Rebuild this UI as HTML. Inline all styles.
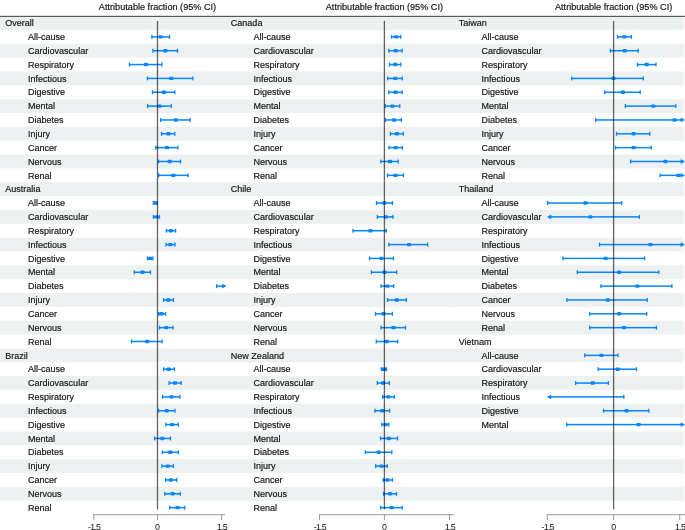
<!DOCTYPE html><html><head><meta charset="utf-8"><style>html,body{margin:0;padding:0;background:#fff;}svg{display:block;}text{font-family:"Liberation Sans",sans-serif;}.t{will-change:transform;}</style></head><body>
<svg class="t" width="685" height="530" viewBox="0 0 685 530">
<rect width="685" height="530" fill="#fff"/>
<rect x="0.00" y="16.10" width="226.10" height="13.85" fill="#eef1f1"/>
<rect x="0.00" y="43.79" width="226.10" height="13.85" fill="#eef1f1"/>
<rect x="0.00" y="71.49" width="226.10" height="13.85" fill="#eef1f1"/>
<rect x="0.00" y="99.18" width="226.10" height="13.85" fill="#eef1f1"/>
<rect x="0.00" y="126.88" width="226.10" height="13.85" fill="#eef1f1"/>
<rect x="0.00" y="154.57" width="226.10" height="13.85" fill="#eef1f1"/>
<rect x="0.00" y="182.26" width="226.10" height="13.85" fill="#eef1f1"/>
<rect x="0.00" y="209.96" width="226.10" height="13.85" fill="#eef1f1"/>
<rect x="0.00" y="237.65" width="226.10" height="13.85" fill="#eef1f1"/>
<rect x="0.00" y="265.35" width="226.10" height="13.85" fill="#eef1f1"/>
<rect x="0.00" y="293.04" width="226.10" height="13.85" fill="#eef1f1"/>
<rect x="0.00" y="320.73" width="226.10" height="13.85" fill="#eef1f1"/>
<rect x="0.00" y="348.43" width="226.10" height="13.85" fill="#eef1f1"/>
<rect x="0.00" y="376.12" width="226.10" height="13.85" fill="#eef1f1"/>
<rect x="0.00" y="403.82" width="226.10" height="13.85" fill="#eef1f1"/>
<rect x="0.00" y="431.51" width="226.10" height="13.85" fill="#eef1f1"/>
<rect x="0.00" y="459.20" width="226.10" height="13.85" fill="#eef1f1"/>
<rect x="0.00" y="486.90" width="226.10" height="13.85" fill="#eef1f1"/>
<rect x="225.50" y="16.10" width="228.50" height="13.85" fill="#eef1f1"/>
<rect x="225.50" y="43.79" width="228.50" height="13.85" fill="#eef1f1"/>
<rect x="225.50" y="71.49" width="228.50" height="13.85" fill="#eef1f1"/>
<rect x="225.50" y="99.18" width="228.50" height="13.85" fill="#eef1f1"/>
<rect x="225.50" y="126.88" width="228.50" height="13.85" fill="#eef1f1"/>
<rect x="225.50" y="154.57" width="228.50" height="13.85" fill="#eef1f1"/>
<rect x="225.50" y="182.26" width="228.50" height="13.85" fill="#eef1f1"/>
<rect x="225.50" y="209.96" width="228.50" height="13.85" fill="#eef1f1"/>
<rect x="225.50" y="237.65" width="228.50" height="13.85" fill="#eef1f1"/>
<rect x="225.50" y="265.35" width="228.50" height="13.85" fill="#eef1f1"/>
<rect x="225.50" y="293.04" width="228.50" height="13.85" fill="#eef1f1"/>
<rect x="225.50" y="320.73" width="228.50" height="13.85" fill="#eef1f1"/>
<rect x="225.50" y="348.43" width="228.50" height="13.85" fill="#eef1f1"/>
<rect x="225.50" y="376.12" width="228.50" height="13.85" fill="#eef1f1"/>
<rect x="225.50" y="403.82" width="228.50" height="13.85" fill="#eef1f1"/>
<rect x="225.50" y="431.51" width="228.50" height="13.85" fill="#eef1f1"/>
<rect x="225.50" y="459.20" width="228.50" height="13.85" fill="#eef1f1"/>
<rect x="225.50" y="486.90" width="228.50" height="13.85" fill="#eef1f1"/>
<rect x="453.40" y="16.10" width="230.60" height="13.85" fill="#eef1f1"/>
<rect x="453.40" y="43.79" width="230.60" height="13.85" fill="#eef1f1"/>
<rect x="453.40" y="71.49" width="230.60" height="13.85" fill="#eef1f1"/>
<rect x="453.40" y="99.18" width="230.60" height="13.85" fill="#eef1f1"/>
<rect x="453.40" y="126.88" width="230.60" height="13.85" fill="#eef1f1"/>
<rect x="453.40" y="154.57" width="230.60" height="13.85" fill="#eef1f1"/>
<rect x="453.40" y="182.26" width="230.60" height="13.85" fill="#eef1f1"/>
<rect x="453.40" y="209.96" width="230.60" height="13.85" fill="#eef1f1"/>
<rect x="453.40" y="237.65" width="230.60" height="13.85" fill="#eef1f1"/>
<rect x="453.40" y="265.35" width="230.60" height="13.85" fill="#eef1f1"/>
<rect x="453.40" y="293.04" width="230.60" height="13.85" fill="#eef1f1"/>
<rect x="453.40" y="320.73" width="230.60" height="13.85" fill="#eef1f1"/>
<rect x="453.40" y="348.43" width="230.60" height="13.85" fill="#eef1f1"/>
<rect x="453.40" y="376.12" width="230.60" height="13.85" fill="#eef1f1"/>
<rect x="453.40" y="403.82" width="230.60" height="13.85" fill="#eef1f1"/>
<rect x="453.40" y="431.51" width="230.60" height="13.85" fill="#eef1f1"/>
<rect x="453.40" y="459.20" width="230.60" height="13.85" fill="#eef1f1"/>
<rect x="453.40" y="486.90" width="230.60" height="13.85" fill="#eef1f1"/>
<rect x="0" y="15.8" width="685" height="1.2" fill="#5a5a5a"/>
<text transform="translate(157.50 9.70) scale(1.027 1)" font-size="8.9" fill="#141414" stroke="#141414" stroke-width="0.18" text-anchor="middle">Attributable fraction (95% CI)</text>
<text transform="translate(384.40 9.70) scale(1.027 1)" font-size="8.9" fill="#141414" stroke="#141414" stroke-width="0.18" text-anchor="middle">Attributable fraction (95% CI)</text>
<text transform="translate(613.60 9.70) scale(1.027 1)" font-size="8.9" fill="#141414" stroke="#141414" stroke-width="0.18" text-anchor="middle">Attributable fraction (95% CI)</text>
<rect x="93.30" y="514.2" width="131.70" height="1.0" fill="#9a9a9a"/>
<rect x="93.30" y="514.2" width="1.0" height="5.8" fill="#9a9a9a"/>
<rect x="157.00" y="514.2" width="1.0" height="5.8" fill="#9a9a9a"/>
<rect x="221.10" y="514.2" width="1.0" height="5.8" fill="#9a9a9a"/>
<text x="94.17" y="530.1" font-size="8.9" fill="#141414" text-anchor="middle" letter-spacing="-0.75">-1.5</text>
<text x="157.50" y="530.1" font-size="8.9" fill="#141414" text-anchor="middle" letter-spacing="0">0</text>
<text x="221.97" y="530.1" font-size="8.9" fill="#141414" text-anchor="middle" letter-spacing="-0.75">1.5</text>
<rect x="319.00" y="514.2" width="134.90" height="1.0" fill="#9a9a9a"/>
<rect x="319.00" y="514.2" width="1.0" height="5.8" fill="#9a9a9a"/>
<rect x="383.90" y="514.2" width="1.0" height="5.8" fill="#9a9a9a"/>
<rect x="449.00" y="514.2" width="1.0" height="5.8" fill="#9a9a9a"/>
<text x="319.88" y="530.1" font-size="8.9" fill="#141414" text-anchor="middle" letter-spacing="-0.75">-1.5</text>
<text x="384.40" y="530.1" font-size="8.9" fill="#141414" text-anchor="middle" letter-spacing="0">0</text>
<text x="449.88" y="530.1" font-size="8.9" fill="#141414" text-anchor="middle" letter-spacing="-0.75">1.5</text>
<rect x="546.80" y="514.2" width="138.20" height="1.0" fill="#9a9a9a"/>
<rect x="546.80" y="514.2" width="1.0" height="5.8" fill="#9a9a9a"/>
<rect x="613.10" y="514.2" width="1.0" height="5.8" fill="#9a9a9a"/>
<rect x="679.20" y="514.2" width="1.0" height="5.8" fill="#9a9a9a"/>
<text x="547.67" y="530.1" font-size="8.9" fill="#141414" text-anchor="middle" letter-spacing="-0.75">-1.5</text>
<text x="613.60" y="530.1" font-size="8.9" fill="#141414" text-anchor="middle" letter-spacing="0">0</text>
<text x="680.08" y="530.1" font-size="8.9" fill="#141414" text-anchor="middle" letter-spacing="-0.75">1.5</text>
<text transform="translate(5.30 26.20) scale(1.015 1)" font-size="8.9" fill="#141414" stroke="#141414" stroke-width="0.18">Overall</text>
<text transform="translate(28.00 40.05) scale(1.015 1)" font-size="8.9" fill="#141414" stroke="#141414" stroke-width="0.18">All-cause</text>
<rect x="151.90" y="36.12" width="17.60" height="1.5" fill="#0386ff"/>
<rect x="151.25" y="34.87" width="1.3" height="4" fill="#0386ff"/>
<rect x="168.85" y="34.87" width="1.3" height="4" fill="#0386ff"/>
<rect x="158.70" y="35.17" width="4.0" height="3.4" rx="0.7" fill="#0386ff"/>
<text transform="translate(28.00 53.89) scale(1.015 1)" font-size="8.9" fill="#141414" stroke="#141414" stroke-width="0.18">Cardiovascular</text>
<rect x="152.90" y="49.97" width="24.60" height="1.5" fill="#0386ff"/>
<rect x="152.25" y="48.72" width="1.3" height="4" fill="#0386ff"/>
<rect x="176.85" y="48.72" width="1.3" height="4" fill="#0386ff"/>
<rect x="163.40" y="49.02" width="4.0" height="3.4" rx="0.7" fill="#0386ff"/>
<text transform="translate(28.00 67.74) scale(1.015 1)" font-size="8.9" fill="#141414" stroke="#141414" stroke-width="0.18">Respiratory</text>
<rect x="129.40" y="63.81" width="32.50" height="1.5" fill="#0386ff"/>
<rect x="128.75" y="62.56" width="1.3" height="4" fill="#0386ff"/>
<rect x="161.25" y="62.56" width="1.3" height="4" fill="#0386ff"/>
<rect x="144.00" y="62.86" width="4.0" height="3.4" rx="0.7" fill="#0386ff"/>
<text transform="translate(28.00 81.59) scale(1.015 1)" font-size="8.9" fill="#141414" stroke="#141414" stroke-width="0.18">Infectious</text>
<rect x="147.40" y="77.66" width="45.40" height="1.5" fill="#0386ff"/>
<rect x="146.75" y="76.41" width="1.3" height="4" fill="#0386ff"/>
<rect x="192.15" y="76.41" width="1.3" height="4" fill="#0386ff"/>
<rect x="169.30" y="76.71" width="4.0" height="3.4" rx="0.7" fill="#0386ff"/>
<text transform="translate(28.00 95.44) scale(1.015 1)" font-size="8.9" fill="#141414" stroke="#141414" stroke-width="0.18">Digestive</text>
<rect x="152.50" y="91.51" width="22.30" height="1.5" fill="#0386ff"/>
<rect x="151.85" y="90.26" width="1.3" height="4" fill="#0386ff"/>
<rect x="174.15" y="90.26" width="1.3" height="4" fill="#0386ff"/>
<rect x="161.80" y="90.56" width="4.0" height="3.4" rx="0.7" fill="#0386ff"/>
<text transform="translate(28.00 109.28) scale(1.015 1)" font-size="8.9" fill="#141414" stroke="#141414" stroke-width="0.18">Mental</text>
<rect x="147.60" y="105.36" width="23.70" height="1.5" fill="#0386ff"/>
<rect x="146.95" y="104.11" width="1.3" height="4" fill="#0386ff"/>
<rect x="170.65" y="104.11" width="1.3" height="4" fill="#0386ff"/>
<rect x="157.50" y="104.41" width="4.0" height="3.4" rx="0.7" fill="#0386ff"/>
<text transform="translate(28.00 123.13) scale(1.015 1)" font-size="8.9" fill="#141414" stroke="#141414" stroke-width="0.18">Diabetes</text>
<rect x="160.70" y="119.20" width="29.40" height="1.5" fill="#0386ff"/>
<rect x="160.05" y="117.95" width="1.3" height="4" fill="#0386ff"/>
<rect x="189.45" y="117.95" width="1.3" height="4" fill="#0386ff"/>
<rect x="173.80" y="118.25" width="4.0" height="3.4" rx="0.7" fill="#0386ff"/>
<text transform="translate(28.00 136.98) scale(1.015 1)" font-size="8.9" fill="#141414" stroke="#141414" stroke-width="0.18">Injury</text>
<rect x="161.50" y="133.05" width="13.30" height="1.5" fill="#0386ff"/>
<rect x="160.85" y="131.80" width="1.3" height="4" fill="#0386ff"/>
<rect x="174.15" y="131.80" width="1.3" height="4" fill="#0386ff"/>
<rect x="166.50" y="132.10" width="4.0" height="3.4" rx="0.7" fill="#0386ff"/>
<text transform="translate(28.00 150.82) scale(1.015 1)" font-size="8.9" fill="#141414" stroke="#141414" stroke-width="0.18">Cancer</text>
<rect x="155.80" y="146.90" width="22.10" height="1.5" fill="#0386ff"/>
<rect x="155.15" y="145.65" width="1.3" height="4" fill="#0386ff"/>
<rect x="177.25" y="145.65" width="1.3" height="4" fill="#0386ff"/>
<rect x="165.00" y="145.95" width="4.0" height="3.4" rx="0.7" fill="#0386ff"/>
<text transform="translate(28.00 164.67) scale(1.015 1)" font-size="8.9" fill="#141414" stroke="#141414" stroke-width="0.18">Nervous</text>
<rect x="158.50" y="160.74" width="22.00" height="1.5" fill="#0386ff"/>
<rect x="157.85" y="159.49" width="1.3" height="4" fill="#0386ff"/>
<rect x="179.85" y="159.49" width="1.3" height="4" fill="#0386ff"/>
<rect x="167.70" y="159.79" width="4.0" height="3.4" rx="0.7" fill="#0386ff"/>
<text transform="translate(28.00 178.52) scale(1.015 1)" font-size="8.9" fill="#141414" stroke="#141414" stroke-width="0.18">Renal</text>
<rect x="158.70" y="174.59" width="29.40" height="1.5" fill="#0386ff"/>
<rect x="158.05" y="173.34" width="1.3" height="4" fill="#0386ff"/>
<rect x="187.45" y="173.34" width="1.3" height="4" fill="#0386ff"/>
<rect x="171.40" y="173.64" width="4.0" height="3.4" rx="0.7" fill="#0386ff"/>
<text transform="translate(5.30 192.36) scale(1.015 1)" font-size="8.9" fill="#141414" stroke="#141414" stroke-width="0.18">Australia</text>
<text transform="translate(28.00 206.21) scale(1.015 1)" font-size="8.9" fill="#141414" stroke="#141414" stroke-width="0.18">All-cause</text>
<rect x="153.40" y="202.28" width="3.60" height="1.5" fill="#0386ff"/>
<rect x="152.75" y="201.03" width="1.3" height="4" fill="#0386ff"/>
<rect x="156.35" y="201.03" width="1.3" height="4" fill="#0386ff"/>
<rect x="153.20" y="201.33" width="4.0" height="3.4" rx="0.7" fill="#0386ff"/>
<text transform="translate(28.00 220.06) scale(1.015 1)" font-size="8.9" fill="#141414" stroke="#141414" stroke-width="0.18">Cardiovascular</text>
<rect x="153.40" y="216.13" width="6.10" height="1.5" fill="#0386ff"/>
<rect x="152.75" y="214.88" width="1.3" height="4" fill="#0386ff"/>
<rect x="158.85" y="214.88" width="1.3" height="4" fill="#0386ff"/>
<rect x="154.40" y="215.18" width="4.0" height="3.4" rx="0.7" fill="#0386ff"/>
<text transform="translate(28.00 233.90) scale(1.015 1)" font-size="8.9" fill="#141414" stroke="#141414" stroke-width="0.18">Respiratory</text>
<rect x="166.40" y="229.98" width="9.20" height="1.5" fill="#0386ff"/>
<rect x="165.75" y="228.73" width="1.3" height="4" fill="#0386ff"/>
<rect x="174.95" y="228.73" width="1.3" height="4" fill="#0386ff"/>
<rect x="168.90" y="229.03" width="4.0" height="3.4" rx="0.7" fill="#0386ff"/>
<text transform="translate(28.00 247.75) scale(1.015 1)" font-size="8.9" fill="#141414" stroke="#141414" stroke-width="0.18">Infectious</text>
<rect x="166.00" y="243.83" width="9.00" height="1.5" fill="#0386ff"/>
<rect x="165.35" y="242.58" width="1.3" height="4" fill="#0386ff"/>
<rect x="174.35" y="242.58" width="1.3" height="4" fill="#0386ff"/>
<rect x="168.30" y="242.88" width="4.0" height="3.4" rx="0.7" fill="#0386ff"/>
<text transform="translate(28.00 261.60) scale(1.015 1)" font-size="8.9" fill="#141414" stroke="#141414" stroke-width="0.18">Digestive</text>
<rect x="147.40" y="257.67" width="5.50" height="1.5" fill="#0386ff"/>
<rect x="146.75" y="256.42" width="1.3" height="4" fill="#0386ff"/>
<rect x="152.25" y="256.42" width="1.3" height="4" fill="#0386ff"/>
<rect x="148.10" y="256.72" width="4.0" height="3.4" rx="0.7" fill="#0386ff"/>
<text transform="translate(28.00 275.45) scale(1.015 1)" font-size="8.9" fill="#141414" stroke="#141414" stroke-width="0.18">Mental</text>
<rect x="134.30" y="271.52" width="16.20" height="1.5" fill="#0386ff"/>
<rect x="133.65" y="270.27" width="1.3" height="4" fill="#0386ff"/>
<rect x="149.85" y="270.27" width="1.3" height="4" fill="#0386ff"/>
<rect x="140.50" y="270.57" width="4.0" height="3.4" rx="0.7" fill="#0386ff"/>
<text transform="translate(28.00 289.29) scale(1.015 1)" font-size="8.9" fill="#141414" stroke="#141414" stroke-width="0.18">Diabetes</text>
<rect x="216.70" y="285.37" width="6.30" height="1.5" fill="#0386ff"/>
<rect x="216.05" y="284.12" width="1.3" height="4" fill="#0386ff"/>
<path d="M226.60 286.12 L222.20 283.72 L222.20 288.52 Z" fill="#0386ff"/>
<text transform="translate(28.00 303.14) scale(1.015 1)" font-size="8.9" fill="#141414" stroke="#141414" stroke-width="0.18">Injury</text>
<rect x="163.60" y="299.21" width="9.80" height="1.5" fill="#0386ff"/>
<rect x="162.95" y="297.96" width="1.3" height="4" fill="#0386ff"/>
<rect x="172.75" y="297.96" width="1.3" height="4" fill="#0386ff"/>
<rect x="166.30" y="298.26" width="4.0" height="3.4" rx="0.7" fill="#0386ff"/>
<text transform="translate(28.00 316.99) scale(1.015 1)" font-size="8.9" fill="#141414" stroke="#141414" stroke-width="0.18">Cancer</text>
<rect x="158.70" y="313.06" width="6.90" height="1.5" fill="#0386ff"/>
<rect x="158.05" y="311.81" width="1.3" height="4" fill="#0386ff"/>
<rect x="164.95" y="311.81" width="1.3" height="4" fill="#0386ff"/>
<rect x="159.50" y="312.11" width="4.0" height="3.4" rx="0.7" fill="#0386ff"/>
<text transform="translate(28.00 330.83) scale(1.015 1)" font-size="8.9" fill="#141414" stroke="#141414" stroke-width="0.18">Nervous</text>
<rect x="159.50" y="326.91" width="13.50" height="1.5" fill="#0386ff"/>
<rect x="158.85" y="325.66" width="1.3" height="4" fill="#0386ff"/>
<rect x="172.35" y="325.66" width="1.3" height="4" fill="#0386ff"/>
<rect x="164.20" y="325.96" width="4.0" height="3.4" rx="0.7" fill="#0386ff"/>
<text transform="translate(28.00 344.68) scale(1.015 1)" font-size="8.9" fill="#141414" stroke="#141414" stroke-width="0.18">Renal</text>
<rect x="131.50" y="340.75" width="30.60" height="1.5" fill="#0386ff"/>
<rect x="130.85" y="339.50" width="1.3" height="4" fill="#0386ff"/>
<rect x="161.45" y="339.50" width="1.3" height="4" fill="#0386ff"/>
<rect x="145.20" y="339.80" width="4.0" height="3.4" rx="0.7" fill="#0386ff"/>
<text transform="translate(5.30 358.53) scale(1.015 1)" font-size="8.9" fill="#141414" stroke="#141414" stroke-width="0.18">Brazil</text>
<text transform="translate(28.00 372.38) scale(1.015 1)" font-size="8.9" fill="#141414" stroke="#141414" stroke-width="0.18">All-cause</text>
<rect x="163.60" y="368.45" width="10.80" height="1.5" fill="#0386ff"/>
<rect x="162.95" y="367.20" width="1.3" height="4" fill="#0386ff"/>
<rect x="173.75" y="367.20" width="1.3" height="4" fill="#0386ff"/>
<rect x="166.70" y="367.50" width="4.0" height="3.4" rx="0.7" fill="#0386ff"/>
<text transform="translate(28.00 386.22) scale(1.015 1)" font-size="8.9" fill="#141414" stroke="#141414" stroke-width="0.18">Cardiovascular</text>
<rect x="169.10" y="382.30" width="12.10" height="1.5" fill="#0386ff"/>
<rect x="168.45" y="381.05" width="1.3" height="4" fill="#0386ff"/>
<rect x="180.55" y="381.05" width="1.3" height="4" fill="#0386ff"/>
<rect x="173.00" y="381.35" width="4.0" height="3.4" rx="0.7" fill="#0386ff"/>
<text transform="translate(28.00 400.07) scale(1.015 1)" font-size="8.9" fill="#141414" stroke="#141414" stroke-width="0.18">Respiratory</text>
<rect x="162.60" y="396.14" width="17.30" height="1.5" fill="#0386ff"/>
<rect x="161.95" y="394.89" width="1.3" height="4" fill="#0386ff"/>
<rect x="179.25" y="394.89" width="1.3" height="4" fill="#0386ff"/>
<rect x="169.50" y="395.19" width="4.0" height="3.4" rx="0.7" fill="#0386ff"/>
<text transform="translate(28.00 413.92) scale(1.015 1)" font-size="8.9" fill="#141414" stroke="#141414" stroke-width="0.18">Infectious</text>
<rect x="158.50" y="409.99" width="16.50" height="1.5" fill="#0386ff"/>
<rect x="157.85" y="408.74" width="1.3" height="4" fill="#0386ff"/>
<rect x="174.35" y="408.74" width="1.3" height="4" fill="#0386ff"/>
<rect x="164.80" y="409.04" width="4.0" height="3.4" rx="0.7" fill="#0386ff"/>
<text transform="translate(28.00 427.76) scale(1.015 1)" font-size="8.9" fill="#141414" stroke="#141414" stroke-width="0.18">Digestive</text>
<rect x="165.80" y="423.84" width="12.50" height="1.5" fill="#0386ff"/>
<rect x="165.15" y="422.59" width="1.3" height="4" fill="#0386ff"/>
<rect x="177.65" y="422.59" width="1.3" height="4" fill="#0386ff"/>
<rect x="170.20" y="422.89" width="4.0" height="3.4" rx="0.7" fill="#0386ff"/>
<text transform="translate(28.00 441.61) scale(1.015 1)" font-size="8.9" fill="#141414" stroke="#141414" stroke-width="0.18">Mental</text>
<rect x="154.60" y="437.68" width="15.90" height="1.5" fill="#0386ff"/>
<rect x="153.95" y="436.43" width="1.3" height="4" fill="#0386ff"/>
<rect x="169.85" y="436.43" width="1.3" height="4" fill="#0386ff"/>
<rect x="160.30" y="436.73" width="4.0" height="3.4" rx="0.7" fill="#0386ff"/>
<text transform="translate(28.00 455.46) scale(1.015 1)" font-size="8.9" fill="#141414" stroke="#141414" stroke-width="0.18">Diabetes</text>
<rect x="162.30" y="451.53" width="16.00" height="1.5" fill="#0386ff"/>
<rect x="161.65" y="450.28" width="1.3" height="4" fill="#0386ff"/>
<rect x="177.65" y="450.28" width="1.3" height="4" fill="#0386ff"/>
<rect x="168.30" y="450.58" width="4.0" height="3.4" rx="0.7" fill="#0386ff"/>
<text transform="translate(28.00 469.30) scale(1.015 1)" font-size="8.9" fill="#141414" stroke="#141414" stroke-width="0.18">Injury</text>
<rect x="161.90" y="465.38" width="11.50" height="1.5" fill="#0386ff"/>
<rect x="161.25" y="464.13" width="1.3" height="4" fill="#0386ff"/>
<rect x="172.75" y="464.13" width="1.3" height="4" fill="#0386ff"/>
<rect x="165.70" y="464.43" width="4.0" height="3.4" rx="0.7" fill="#0386ff"/>
<text transform="translate(28.00 483.15) scale(1.015 1)" font-size="8.9" fill="#141414" stroke="#141414" stroke-width="0.18">Cancer</text>
<rect x="165.60" y="479.22" width="11.10" height="1.5" fill="#0386ff"/>
<rect x="164.95" y="477.97" width="1.3" height="4" fill="#0386ff"/>
<rect x="176.05" y="477.97" width="1.3" height="4" fill="#0386ff"/>
<rect x="168.90" y="478.27" width="4.0" height="3.4" rx="0.7" fill="#0386ff"/>
<text transform="translate(28.00 497.00) scale(1.015 1)" font-size="8.9" fill="#141414" stroke="#141414" stroke-width="0.18">Nervous</text>
<rect x="164.80" y="493.07" width="15.50" height="1.5" fill="#0386ff"/>
<rect x="164.15" y="491.82" width="1.3" height="4" fill="#0386ff"/>
<rect x="179.65" y="491.82" width="1.3" height="4" fill="#0386ff"/>
<rect x="170.60" y="492.12" width="4.0" height="3.4" rx="0.7" fill="#0386ff"/>
<text transform="translate(28.00 510.85) scale(1.015 1)" font-size="8.9" fill="#141414" stroke="#141414" stroke-width="0.18">Renal</text>
<rect x="169.70" y="506.92" width="15.10" height="1.5" fill="#0386ff"/>
<rect x="169.05" y="505.67" width="1.3" height="4" fill="#0386ff"/>
<rect x="184.15" y="505.67" width="1.3" height="4" fill="#0386ff"/>
<rect x="175.50" y="505.97" width="4.0" height="3.4" rx="0.7" fill="#0386ff"/>
<text transform="translate(230.80 26.20) scale(1.015 1)" font-size="8.9" fill="#141414" stroke="#141414" stroke-width="0.18">Canada</text>
<text transform="translate(253.50 40.05) scale(1.015 1)" font-size="8.9" fill="#141414" stroke="#141414" stroke-width="0.18">All-cause</text>
<rect x="391.60" y="36.12" width="9.20" height="1.5" fill="#0386ff"/>
<rect x="390.95" y="34.87" width="1.3" height="4" fill="#0386ff"/>
<rect x="400.15" y="34.87" width="1.3" height="4" fill="#0386ff"/>
<rect x="394.30" y="35.17" width="4.0" height="3.4" rx="0.7" fill="#0386ff"/>
<text transform="translate(253.50 53.89) scale(1.015 1)" font-size="8.9" fill="#141414" stroke="#141414" stroke-width="0.18">Cardiovascular</text>
<rect x="388.80" y="49.97" width="13.40" height="1.5" fill="#0386ff"/>
<rect x="388.15" y="48.72" width="1.3" height="4" fill="#0386ff"/>
<rect x="401.55" y="48.72" width="1.3" height="4" fill="#0386ff"/>
<rect x="393.70" y="49.02" width="4.0" height="3.4" rx="0.7" fill="#0386ff"/>
<text transform="translate(253.50 67.74) scale(1.015 1)" font-size="8.9" fill="#141414" stroke="#141414" stroke-width="0.18">Respiratory</text>
<rect x="389.40" y="63.81" width="11.40" height="1.5" fill="#0386ff"/>
<rect x="388.75" y="62.56" width="1.3" height="4" fill="#0386ff"/>
<rect x="400.15" y="62.56" width="1.3" height="4" fill="#0386ff"/>
<rect x="393.30" y="62.86" width="4.0" height="3.4" rx="0.7" fill="#0386ff"/>
<text transform="translate(253.50 81.59) scale(1.015 1)" font-size="8.9" fill="#141414" stroke="#141414" stroke-width="0.18">Infectious</text>
<rect x="387.70" y="77.66" width="14.50" height="1.5" fill="#0386ff"/>
<rect x="387.05" y="76.41" width="1.3" height="4" fill="#0386ff"/>
<rect x="401.55" y="76.41" width="1.3" height="4" fill="#0386ff"/>
<rect x="393.30" y="76.71" width="4.0" height="3.4" rx="0.7" fill="#0386ff"/>
<text transform="translate(253.50 95.44) scale(1.015 1)" font-size="8.9" fill="#141414" stroke="#141414" stroke-width="0.18">Digestive</text>
<rect x="388.80" y="91.51" width="13.40" height="1.5" fill="#0386ff"/>
<rect x="388.15" y="90.26" width="1.3" height="4" fill="#0386ff"/>
<rect x="401.55" y="90.26" width="1.3" height="4" fill="#0386ff"/>
<rect x="393.70" y="90.56" width="4.0" height="3.4" rx="0.7" fill="#0386ff"/>
<text transform="translate(253.50 109.28) scale(1.015 1)" font-size="8.9" fill="#141414" stroke="#141414" stroke-width="0.18">Mental</text>
<rect x="385.30" y="105.36" width="14.50" height="1.5" fill="#0386ff"/>
<rect x="384.65" y="104.11" width="1.3" height="4" fill="#0386ff"/>
<rect x="399.15" y="104.11" width="1.3" height="4" fill="#0386ff"/>
<rect x="390.40" y="104.41" width="4.0" height="3.4" rx="0.7" fill="#0386ff"/>
<text transform="translate(253.50 123.13) scale(1.015 1)" font-size="8.9" fill="#141414" stroke="#141414" stroke-width="0.18">Diabetes</text>
<rect x="385.50" y="119.20" width="15.90" height="1.5" fill="#0386ff"/>
<rect x="384.85" y="117.95" width="1.3" height="4" fill="#0386ff"/>
<rect x="400.75" y="117.95" width="1.3" height="4" fill="#0386ff"/>
<rect x="392.10" y="118.25" width="4.0" height="3.4" rx="0.7" fill="#0386ff"/>
<text transform="translate(253.50 136.98) scale(1.015 1)" font-size="8.9" fill="#141414" stroke="#141414" stroke-width="0.18">Injury</text>
<rect x="390.40" y="133.05" width="12.90" height="1.5" fill="#0386ff"/>
<rect x="389.75" y="131.80" width="1.3" height="4" fill="#0386ff"/>
<rect x="402.65" y="131.80" width="1.3" height="4" fill="#0386ff"/>
<rect x="394.90" y="132.10" width="4.0" height="3.4" rx="0.7" fill="#0386ff"/>
<text transform="translate(253.50 150.82) scale(1.015 1)" font-size="8.9" fill="#141414" stroke="#141414" stroke-width="0.18">Cancer</text>
<rect x="389.00" y="146.90" width="13.40" height="1.5" fill="#0386ff"/>
<rect x="388.35" y="145.65" width="1.3" height="4" fill="#0386ff"/>
<rect x="401.75" y="145.65" width="1.3" height="4" fill="#0386ff"/>
<rect x="393.70" y="145.95" width="4.0" height="3.4" rx="0.7" fill="#0386ff"/>
<text transform="translate(253.50 164.67) scale(1.015 1)" font-size="8.9" fill="#141414" stroke="#141414" stroke-width="0.18">Nervous</text>
<rect x="380.80" y="160.74" width="17.40" height="1.5" fill="#0386ff"/>
<rect x="380.15" y="159.49" width="1.3" height="4" fill="#0386ff"/>
<rect x="397.55" y="159.49" width="1.3" height="4" fill="#0386ff"/>
<rect x="388.00" y="159.79" width="4.0" height="3.4" rx="0.7" fill="#0386ff"/>
<text transform="translate(253.50 178.52) scale(1.015 1)" font-size="8.9" fill="#141414" stroke="#141414" stroke-width="0.18">Renal</text>
<rect x="387.50" y="174.59" width="16.00" height="1.5" fill="#0386ff"/>
<rect x="386.85" y="173.34" width="1.3" height="4" fill="#0386ff"/>
<rect x="402.85" y="173.34" width="1.3" height="4" fill="#0386ff"/>
<rect x="393.50" y="173.64" width="4.0" height="3.4" rx="0.7" fill="#0386ff"/>
<text transform="translate(230.80 192.36) scale(1.015 1)" font-size="8.9" fill="#141414" stroke="#141414" stroke-width="0.18">Chile</text>
<text transform="translate(253.50 206.21) scale(1.015 1)" font-size="8.9" fill="#141414" stroke="#141414" stroke-width="0.18">All-cause</text>
<rect x="376.50" y="202.28" width="15.90" height="1.5" fill="#0386ff"/>
<rect x="375.85" y="201.03" width="1.3" height="4" fill="#0386ff"/>
<rect x="391.75" y="201.03" width="1.3" height="4" fill="#0386ff"/>
<rect x="382.30" y="201.33" width="4.0" height="3.4" rx="0.7" fill="#0386ff"/>
<text transform="translate(253.50 220.06) scale(1.015 1)" font-size="8.9" fill="#141414" stroke="#141414" stroke-width="0.18">Cardiovascular</text>
<rect x="377.30" y="216.13" width="15.70" height="1.5" fill="#0386ff"/>
<rect x="376.65" y="214.88" width="1.3" height="4" fill="#0386ff"/>
<rect x="392.35" y="214.88" width="1.3" height="4" fill="#0386ff"/>
<rect x="383.90" y="215.18" width="4.0" height="3.4" rx="0.7" fill="#0386ff"/>
<text transform="translate(253.50 233.90) scale(1.015 1)" font-size="8.9" fill="#141414" stroke="#141414" stroke-width="0.18">Respiratory</text>
<rect x="353.00" y="229.98" width="33.30" height="1.5" fill="#0386ff"/>
<rect x="352.35" y="228.73" width="1.3" height="4" fill="#0386ff"/>
<rect x="385.65" y="228.73" width="1.3" height="4" fill="#0386ff"/>
<rect x="368.40" y="229.03" width="4.0" height="3.4" rx="0.7" fill="#0386ff"/>
<text transform="translate(253.50 247.75) scale(1.015 1)" font-size="8.9" fill="#141414" stroke="#141414" stroke-width="0.18">Infectious</text>
<rect x="388.80" y="243.83" width="38.80" height="1.5" fill="#0386ff"/>
<rect x="388.15" y="242.58" width="1.3" height="4" fill="#0386ff"/>
<rect x="426.95" y="242.58" width="1.3" height="4" fill="#0386ff"/>
<rect x="407.00" y="242.88" width="4.0" height="3.4" rx="0.7" fill="#0386ff"/>
<text transform="translate(253.50 261.60) scale(1.015 1)" font-size="8.9" fill="#141414" stroke="#141414" stroke-width="0.18">Digestive</text>
<rect x="369.50" y="257.67" width="24.00" height="1.5" fill="#0386ff"/>
<rect x="368.85" y="256.42" width="1.3" height="4" fill="#0386ff"/>
<rect x="392.85" y="256.42" width="1.3" height="4" fill="#0386ff"/>
<rect x="379.40" y="256.72" width="4.0" height="3.4" rx="0.7" fill="#0386ff"/>
<text transform="translate(253.50 275.45) scale(1.015 1)" font-size="8.9" fill="#141414" stroke="#141414" stroke-width="0.18">Mental</text>
<rect x="371.40" y="271.52" width="25.30" height="1.5" fill="#0386ff"/>
<rect x="370.75" y="270.27" width="1.3" height="4" fill="#0386ff"/>
<rect x="396.05" y="270.27" width="1.3" height="4" fill="#0386ff"/>
<rect x="382.50" y="270.57" width="4.0" height="3.4" rx="0.7" fill="#0386ff"/>
<text transform="translate(253.50 289.29) scale(1.015 1)" font-size="8.9" fill="#141414" stroke="#141414" stroke-width="0.18">Diabetes</text>
<rect x="381.00" y="285.37" width="12.70" height="1.5" fill="#0386ff"/>
<rect x="380.35" y="284.12" width="1.3" height="4" fill="#0386ff"/>
<rect x="393.05" y="284.12" width="1.3" height="4" fill="#0386ff"/>
<rect x="385.30" y="284.42" width="4.0" height="3.4" rx="0.7" fill="#0386ff"/>
<text transform="translate(253.50 303.14) scale(1.015 1)" font-size="8.9" fill="#141414" stroke="#141414" stroke-width="0.18">Injury</text>
<rect x="387.50" y="299.21" width="18.80" height="1.5" fill="#0386ff"/>
<rect x="386.85" y="297.96" width="1.3" height="4" fill="#0386ff"/>
<rect x="405.65" y="297.96" width="1.3" height="4" fill="#0386ff"/>
<rect x="394.90" y="298.26" width="4.0" height="3.4" rx="0.7" fill="#0386ff"/>
<text transform="translate(253.50 316.99) scale(1.015 1)" font-size="8.9" fill="#141414" stroke="#141414" stroke-width="0.18">Cancer</text>
<rect x="375.50" y="313.06" width="16.90" height="1.5" fill="#0386ff"/>
<rect x="374.85" y="311.81" width="1.3" height="4" fill="#0386ff"/>
<rect x="391.75" y="311.81" width="1.3" height="4" fill="#0386ff"/>
<rect x="381.60" y="312.11" width="4.0" height="3.4" rx="0.7" fill="#0386ff"/>
<text transform="translate(253.50 330.83) scale(1.015 1)" font-size="8.9" fill="#141414" stroke="#141414" stroke-width="0.18">Nervous</text>
<rect x="381.00" y="326.91" width="24.50" height="1.5" fill="#0386ff"/>
<rect x="380.35" y="325.66" width="1.3" height="4" fill="#0386ff"/>
<rect x="404.85" y="325.66" width="1.3" height="4" fill="#0386ff"/>
<rect x="391.50" y="325.96" width="4.0" height="3.4" rx="0.7" fill="#0386ff"/>
<text transform="translate(253.50 344.68) scale(1.015 1)" font-size="8.9" fill="#141414" stroke="#141414" stroke-width="0.18">Renal</text>
<rect x="376.30" y="340.75" width="21.40" height="1.5" fill="#0386ff"/>
<rect x="375.65" y="339.50" width="1.3" height="4" fill="#0386ff"/>
<rect x="397.05" y="339.50" width="1.3" height="4" fill="#0386ff"/>
<rect x="384.70" y="339.80" width="4.0" height="3.4" rx="0.7" fill="#0386ff"/>
<text transform="translate(230.80 358.53) scale(1.015 1)" font-size="8.9" fill="#141414" stroke="#141414" stroke-width="0.18">New Zealand</text>
<text transform="translate(253.50 372.38) scale(1.015 1)" font-size="8.9" fill="#141414" stroke="#141414" stroke-width="0.18">All-cause</text>
<rect x="381.40" y="368.45" width="5.10" height="1.5" fill="#0386ff"/>
<rect x="380.75" y="367.20" width="1.3" height="4" fill="#0386ff"/>
<rect x="385.85" y="367.20" width="1.3" height="4" fill="#0386ff"/>
<rect x="381.90" y="367.50" width="4.0" height="3.4" rx="0.7" fill="#0386ff"/>
<text transform="translate(253.50 386.22) scale(1.015 1)" font-size="8.9" fill="#141414" stroke="#141414" stroke-width="0.18">Cardiovascular</text>
<rect x="377.30" y="382.30" width="12.10" height="1.5" fill="#0386ff"/>
<rect x="376.65" y="381.05" width="1.3" height="4" fill="#0386ff"/>
<rect x="388.75" y="381.05" width="1.3" height="4" fill="#0386ff"/>
<rect x="381.00" y="381.35" width="4.0" height="3.4" rx="0.7" fill="#0386ff"/>
<text transform="translate(253.50 400.07) scale(1.015 1)" font-size="8.9" fill="#141414" stroke="#141414" stroke-width="0.18">Respiratory</text>
<rect x="382.60" y="396.14" width="11.70" height="1.5" fill="#0386ff"/>
<rect x="381.95" y="394.89" width="1.3" height="4" fill="#0386ff"/>
<rect x="393.65" y="394.89" width="1.3" height="4" fill="#0386ff"/>
<rect x="386.30" y="395.19" width="4.0" height="3.4" rx="0.7" fill="#0386ff"/>
<text transform="translate(253.50 413.92) scale(1.015 1)" font-size="8.9" fill="#141414" stroke="#141414" stroke-width="0.18">Infectious</text>
<rect x="374.90" y="409.99" width="14.70" height="1.5" fill="#0386ff"/>
<rect x="374.25" y="408.74" width="1.3" height="4" fill="#0386ff"/>
<rect x="388.95" y="408.74" width="1.3" height="4" fill="#0386ff"/>
<rect x="380.20" y="409.04" width="4.0" height="3.4" rx="0.7" fill="#0386ff"/>
<text transform="translate(253.50 427.76) scale(1.015 1)" font-size="8.9" fill="#141414" stroke="#141414" stroke-width="0.18">Digestive</text>
<rect x="381.80" y="423.84" width="7.00" height="1.5" fill="#0386ff"/>
<rect x="381.15" y="422.59" width="1.3" height="4" fill="#0386ff"/>
<rect x="388.15" y="422.59" width="1.3" height="4" fill="#0386ff"/>
<rect x="383.50" y="422.89" width="4.0" height="3.4" rx="0.7" fill="#0386ff"/>
<text transform="translate(253.50 441.61) scale(1.015 1)" font-size="8.9" fill="#141414" stroke="#141414" stroke-width="0.18">Mental</text>
<rect x="380.60" y="437.68" width="16.90" height="1.5" fill="#0386ff"/>
<rect x="379.95" y="436.43" width="1.3" height="4" fill="#0386ff"/>
<rect x="396.85" y="436.43" width="1.3" height="4" fill="#0386ff"/>
<rect x="386.80" y="436.73" width="4.0" height="3.4" rx="0.7" fill="#0386ff"/>
<text transform="translate(253.50 455.46) scale(1.015 1)" font-size="8.9" fill="#141414" stroke="#141414" stroke-width="0.18">Diabetes</text>
<rect x="365.30" y="451.53" width="26.50" height="1.5" fill="#0386ff"/>
<rect x="364.65" y="450.28" width="1.3" height="4" fill="#0386ff"/>
<rect x="391.15" y="450.28" width="1.3" height="4" fill="#0386ff"/>
<rect x="376.70" y="450.58" width="4.0" height="3.4" rx="0.7" fill="#0386ff"/>
<text transform="translate(253.50 469.30) scale(1.015 1)" font-size="8.9" fill="#141414" stroke="#141414" stroke-width="0.18">Injury</text>
<rect x="375.70" y="465.38" width="11.60" height="1.5" fill="#0386ff"/>
<rect x="375.05" y="464.13" width="1.3" height="4" fill="#0386ff"/>
<rect x="386.65" y="464.13" width="1.3" height="4" fill="#0386ff"/>
<rect x="379.40" y="464.43" width="4.0" height="3.4" rx="0.7" fill="#0386ff"/>
<text transform="translate(253.50 483.15) scale(1.015 1)" font-size="8.9" fill="#141414" stroke="#141414" stroke-width="0.18">Cancer</text>
<rect x="383.20" y="479.22" width="9.20" height="1.5" fill="#0386ff"/>
<rect x="382.55" y="477.97" width="1.3" height="4" fill="#0386ff"/>
<rect x="391.75" y="477.97" width="1.3" height="4" fill="#0386ff"/>
<rect x="385.50" y="478.27" width="4.0" height="3.4" rx="0.7" fill="#0386ff"/>
<text transform="translate(253.50 497.00) scale(1.015 1)" font-size="8.9" fill="#141414" stroke="#141414" stroke-width="0.18">Nervous</text>
<rect x="383.60" y="493.07" width="12.90" height="1.5" fill="#0386ff"/>
<rect x="382.95" y="491.82" width="1.3" height="4" fill="#0386ff"/>
<rect x="395.85" y="491.82" width="1.3" height="4" fill="#0386ff"/>
<rect x="388.00" y="492.12" width="4.0" height="3.4" rx="0.7" fill="#0386ff"/>
<text transform="translate(253.50 510.85) scale(1.015 1)" font-size="8.9" fill="#141414" stroke="#141414" stroke-width="0.18">Renal</text>
<rect x="380.60" y="506.92" width="21.60" height="1.5" fill="#0386ff"/>
<rect x="379.95" y="505.67" width="1.3" height="4" fill="#0386ff"/>
<rect x="401.55" y="505.67" width="1.3" height="4" fill="#0386ff"/>
<rect x="389.60" y="505.97" width="4.0" height="3.4" rx="0.7" fill="#0386ff"/>
<text transform="translate(458.70 26.20) scale(1.015 1)" font-size="8.9" fill="#141414" stroke="#141414" stroke-width="0.18">Taiwan</text>
<text transform="translate(481.40 40.05) scale(1.015 1)" font-size="8.9" fill="#141414" stroke="#141414" stroke-width="0.18">All-cause</text>
<rect x="617.60" y="36.12" width="13.80" height="1.5" fill="#0386ff"/>
<rect x="616.95" y="34.87" width="1.3" height="4" fill="#0386ff"/>
<rect x="630.75" y="34.87" width="1.3" height="4" fill="#0386ff"/>
<rect x="622.30" y="35.17" width="4.0" height="3.4" rx="0.7" fill="#0386ff"/>
<text transform="translate(481.40 53.89) scale(1.015 1)" font-size="8.9" fill="#141414" stroke="#141414" stroke-width="0.18">Cardiovascular</text>
<rect x="610.40" y="49.97" width="27.80" height="1.5" fill="#0386ff"/>
<rect x="609.75" y="48.72" width="1.3" height="4" fill="#0386ff"/>
<rect x="637.55" y="48.72" width="1.3" height="4" fill="#0386ff"/>
<rect x="622.70" y="49.02" width="4.0" height="3.4" rx="0.7" fill="#0386ff"/>
<text transform="translate(481.40 67.74) scale(1.015 1)" font-size="8.9" fill="#141414" stroke="#141414" stroke-width="0.18">Respiratory</text>
<rect x="637.40" y="63.81" width="18.60" height="1.5" fill="#0386ff"/>
<rect x="636.75" y="62.56" width="1.3" height="4" fill="#0386ff"/>
<rect x="655.35" y="62.56" width="1.3" height="4" fill="#0386ff"/>
<rect x="644.60" y="62.86" width="4.0" height="3.4" rx="0.7" fill="#0386ff"/>
<text transform="translate(481.40 81.59) scale(1.015 1)" font-size="8.9" fill="#141414" stroke="#141414" stroke-width="0.18">Infectious</text>
<rect x="571.80" y="77.66" width="71.50" height="1.5" fill="#0386ff"/>
<rect x="571.15" y="76.41" width="1.3" height="4" fill="#0386ff"/>
<rect x="642.65" y="76.41" width="1.3" height="4" fill="#0386ff"/>
<rect x="611.50" y="76.71" width="4.0" height="3.4" rx="0.7" fill="#0386ff"/>
<text transform="translate(481.40 95.44) scale(1.015 1)" font-size="8.9" fill="#141414" stroke="#141414" stroke-width="0.18">Digestive</text>
<rect x="604.70" y="91.51" width="35.50" height="1.5" fill="#0386ff"/>
<rect x="604.05" y="90.26" width="1.3" height="4" fill="#0386ff"/>
<rect x="639.55" y="90.26" width="1.3" height="4" fill="#0386ff"/>
<rect x="620.90" y="90.56" width="4.0" height="3.4" rx="0.7" fill="#0386ff"/>
<text transform="translate(481.40 109.28) scale(1.015 1)" font-size="8.9" fill="#141414" stroke="#141414" stroke-width="0.18">Mental</text>
<rect x="625.30" y="105.36" width="50.50" height="1.5" fill="#0386ff"/>
<rect x="624.65" y="104.11" width="1.3" height="4" fill="#0386ff"/>
<rect x="675.15" y="104.11" width="1.3" height="4" fill="#0386ff"/>
<rect x="651.30" y="104.41" width="4.0" height="3.4" rx="0.7" fill="#0386ff"/>
<text transform="translate(481.40 123.13) scale(1.015 1)" font-size="8.9" fill="#141414" stroke="#141414" stroke-width="0.18">Diabetes</text>
<rect x="595.70" y="119.20" width="85.70" height="1.5" fill="#0386ff"/>
<rect x="595.05" y="117.95" width="1.3" height="4" fill="#0386ff"/>
<path d="M685.00 119.95 L680.60 117.55 L680.60 122.35 Z" fill="#0386ff"/>
<rect x="672.60" y="118.25" width="4.0" height="3.4" rx="0.7" fill="#0386ff"/>
<text transform="translate(481.40 136.98) scale(1.015 1)" font-size="8.9" fill="#141414" stroke="#141414" stroke-width="0.18">Injury</text>
<rect x="616.50" y="133.05" width="33.30" height="1.5" fill="#0386ff"/>
<rect x="615.85" y="131.80" width="1.3" height="4" fill="#0386ff"/>
<rect x="649.15" y="131.80" width="1.3" height="4" fill="#0386ff"/>
<rect x="631.70" y="132.10" width="4.0" height="3.4" rx="0.7" fill="#0386ff"/>
<text transform="translate(481.40 150.82) scale(1.015 1)" font-size="8.9" fill="#141414" stroke="#141414" stroke-width="0.18">Cancer</text>
<rect x="615.50" y="146.90" width="35.80" height="1.5" fill="#0386ff"/>
<rect x="614.85" y="145.65" width="1.3" height="4" fill="#0386ff"/>
<rect x="650.65" y="145.65" width="1.3" height="4" fill="#0386ff"/>
<rect x="631.70" y="145.95" width="4.0" height="3.4" rx="0.7" fill="#0386ff"/>
<text transform="translate(481.40 164.67) scale(1.015 1)" font-size="8.9" fill="#141414" stroke="#141414" stroke-width="0.18">Nervous</text>
<rect x="630.60" y="160.74" width="50.80" height="1.5" fill="#0386ff"/>
<rect x="629.95" y="159.49" width="1.3" height="4" fill="#0386ff"/>
<path d="M685.00 161.49 L680.60 159.09 L680.60 163.89 Z" fill="#0386ff"/>
<rect x="663.40" y="159.79" width="4.0" height="3.4" rx="0.7" fill="#0386ff"/>
<text transform="translate(481.40 178.52) scale(1.015 1)" font-size="8.9" fill="#141414" stroke="#141414" stroke-width="0.18">Renal</text>
<rect x="660.10" y="174.59" width="21.30" height="1.5" fill="#0386ff"/>
<rect x="659.45" y="173.34" width="1.3" height="4" fill="#0386ff"/>
<path d="M685.00 175.34 L680.60 172.94 L680.60 177.74 Z" fill="#0386ff"/>
<rect x="676.30" y="173.64" width="4.0" height="3.4" rx="0.7" fill="#0386ff"/>
<text transform="translate(458.70 192.36) scale(1.015 1)" font-size="8.9" fill="#141414" stroke="#141414" stroke-width="0.18">Thailand</text>
<text transform="translate(481.40 206.21) scale(1.015 1)" font-size="8.9" fill="#141414" stroke="#141414" stroke-width="0.18">All-cause</text>
<rect x="547.60" y="202.28" width="74.10" height="1.5" fill="#0386ff"/>
<rect x="546.95" y="201.03" width="1.3" height="4" fill="#0386ff"/>
<rect x="621.05" y="201.03" width="1.3" height="4" fill="#0386ff"/>
<rect x="583.50" y="201.33" width="4.0" height="3.4" rx="0.7" fill="#0386ff"/>
<text transform="translate(481.40 220.06) scale(1.015 1)" font-size="8.9" fill="#141414" stroke="#141414" stroke-width="0.18">Cardiovascular</text>
<rect x="550.50" y="216.13" width="88.80" height="1.5" fill="#0386ff"/>
<path d="M546.90 216.88 L551.30 214.48 L551.30 219.28 Z" fill="#0386ff"/>
<rect x="638.65" y="214.88" width="1.3" height="4" fill="#0386ff"/>
<rect x="588.40" y="215.18" width="4.0" height="3.4" rx="0.7" fill="#0386ff"/>
<text transform="translate(481.40 233.90) scale(1.015 1)" font-size="8.9" fill="#141414" stroke="#141414" stroke-width="0.18">Respiratory</text>
<text transform="translate(481.40 247.75) scale(1.015 1)" font-size="8.9" fill="#141414" stroke="#141414" stroke-width="0.18">Infectious</text>
<rect x="599.50" y="243.83" width="81.90" height="1.5" fill="#0386ff"/>
<rect x="598.85" y="242.58" width="1.3" height="4" fill="#0386ff"/>
<path d="M685.00 244.58 L680.60 242.18 L680.60 246.98 Z" fill="#0386ff"/>
<rect x="648.50" y="242.88" width="4.0" height="3.4" rx="0.7" fill="#0386ff"/>
<text transform="translate(481.40 261.60) scale(1.015 1)" font-size="8.9" fill="#141414" stroke="#141414" stroke-width="0.18">Digestive</text>
<rect x="562.90" y="257.67" width="81.70" height="1.5" fill="#0386ff"/>
<rect x="562.25" y="256.42" width="1.3" height="4" fill="#0386ff"/>
<rect x="643.95" y="256.42" width="1.3" height="4" fill="#0386ff"/>
<rect x="603.60" y="256.72" width="4.0" height="3.4" rx="0.7" fill="#0386ff"/>
<text transform="translate(481.40 275.45) scale(1.015 1)" font-size="8.9" fill="#141414" stroke="#141414" stroke-width="0.18">Mental</text>
<rect x="577.30" y="271.52" width="81.50" height="1.5" fill="#0386ff"/>
<rect x="576.65" y="270.27" width="1.3" height="4" fill="#0386ff"/>
<rect x="658.15" y="270.27" width="1.3" height="4" fill="#0386ff"/>
<rect x="617.20" y="270.57" width="4.0" height="3.4" rx="0.7" fill="#0386ff"/>
<text transform="translate(481.40 289.29) scale(1.015 1)" font-size="8.9" fill="#141414" stroke="#141414" stroke-width="0.18">Diabetes</text>
<rect x="601.00" y="285.37" width="70.90" height="1.5" fill="#0386ff"/>
<rect x="600.35" y="284.12" width="1.3" height="4" fill="#0386ff"/>
<rect x="671.25" y="284.12" width="1.3" height="4" fill="#0386ff"/>
<rect x="635.40" y="284.42" width="4.0" height="3.4" rx="0.7" fill="#0386ff"/>
<text transform="translate(481.40 303.14) scale(1.015 1)" font-size="8.9" fill="#141414" stroke="#141414" stroke-width="0.18">Cancer</text>
<rect x="566.90" y="299.21" width="80.40" height="1.5" fill="#0386ff"/>
<rect x="566.25" y="297.96" width="1.3" height="4" fill="#0386ff"/>
<rect x="646.65" y="297.96" width="1.3" height="4" fill="#0386ff"/>
<rect x="605.70" y="298.26" width="4.0" height="3.4" rx="0.7" fill="#0386ff"/>
<text transform="translate(481.40 316.99) scale(1.015 1)" font-size="8.9" fill="#141414" stroke="#141414" stroke-width="0.18">Nervous</text>
<rect x="589.70" y="313.06" width="57.00" height="1.5" fill="#0386ff"/>
<rect x="589.05" y="311.81" width="1.3" height="4" fill="#0386ff"/>
<rect x="646.05" y="311.81" width="1.3" height="4" fill="#0386ff"/>
<rect x="617.20" y="312.11" width="4.0" height="3.4" rx="0.7" fill="#0386ff"/>
<text transform="translate(481.40 330.83) scale(1.015 1)" font-size="8.9" fill="#141414" stroke="#141414" stroke-width="0.18">Renal</text>
<rect x="589.70" y="326.91" width="66.70" height="1.5" fill="#0386ff"/>
<rect x="589.05" y="325.66" width="1.3" height="4" fill="#0386ff"/>
<rect x="655.75" y="325.66" width="1.3" height="4" fill="#0386ff"/>
<rect x="622.00" y="325.96" width="4.0" height="3.4" rx="0.7" fill="#0386ff"/>
<text transform="translate(458.70 344.68) scale(1.015 1)" font-size="8.9" fill="#141414" stroke="#141414" stroke-width="0.18">Vietnam</text>
<text transform="translate(481.40 358.53) scale(1.015 1)" font-size="8.9" fill="#141414" stroke="#141414" stroke-width="0.18">All-cause</text>
<rect x="584.70" y="354.60" width="33.20" height="1.5" fill="#0386ff"/>
<rect x="584.05" y="353.35" width="1.3" height="4" fill="#0386ff"/>
<rect x="617.25" y="353.35" width="1.3" height="4" fill="#0386ff"/>
<rect x="599.40" y="353.65" width="4.0" height="3.4" rx="0.7" fill="#0386ff"/>
<text transform="translate(481.40 372.38) scale(1.015 1)" font-size="8.9" fill="#141414" stroke="#141414" stroke-width="0.18">Cardiovascular</text>
<rect x="598.20" y="368.45" width="38.30" height="1.5" fill="#0386ff"/>
<rect x="597.55" y="367.20" width="1.3" height="4" fill="#0386ff"/>
<rect x="635.85" y="367.20" width="1.3" height="4" fill="#0386ff"/>
<rect x="615.70" y="367.50" width="4.0" height="3.4" rx="0.7" fill="#0386ff"/>
<text transform="translate(481.40 386.22) scale(1.015 1)" font-size="8.9" fill="#141414" stroke="#141414" stroke-width="0.18">Respiratory</text>
<rect x="575.60" y="382.30" width="32.80" height="1.5" fill="#0386ff"/>
<rect x="574.95" y="381.05" width="1.3" height="4" fill="#0386ff"/>
<rect x="607.75" y="381.05" width="1.3" height="4" fill="#0386ff"/>
<rect x="590.70" y="381.35" width="4.0" height="3.4" rx="0.7" fill="#0386ff"/>
<text transform="translate(481.40 400.07) scale(1.015 1)" font-size="8.9" fill="#141414" stroke="#141414" stroke-width="0.18">Infectious</text>
<rect x="550.50" y="396.14" width="73.30" height="1.5" fill="#0386ff"/>
<path d="M546.90 396.89 L551.30 394.49 L551.30 399.29 Z" fill="#0386ff"/>
<rect x="623.15" y="394.89" width="1.3" height="4" fill="#0386ff"/>
<text transform="translate(481.40 413.92) scale(1.015 1)" font-size="8.9" fill="#141414" stroke="#141414" stroke-width="0.18">Digestive</text>
<rect x="603.50" y="409.99" width="45.30" height="1.5" fill="#0386ff"/>
<rect x="602.85" y="408.74" width="1.3" height="4" fill="#0386ff"/>
<rect x="648.15" y="408.74" width="1.3" height="4" fill="#0386ff"/>
<rect x="624.60" y="409.04" width="4.0" height="3.4" rx="0.7" fill="#0386ff"/>
<text transform="translate(481.40 427.76) scale(1.015 1)" font-size="8.9" fill="#141414" stroke="#141414" stroke-width="0.18">Mental</text>
<rect x="566.70" y="423.84" width="114.70" height="1.5" fill="#0386ff"/>
<rect x="566.05" y="422.59" width="1.3" height="4" fill="#0386ff"/>
<path d="M685.00 424.59 L680.60 422.19 L680.60 426.99 Z" fill="#0386ff"/>
<rect x="636.60" y="422.89" width="4.0" height="3.4" rx="0.7" fill="#0386ff"/>
<rect x="156.85" y="20.8" width="1.3" height="488.80" rx="0.6" fill="#636363" style="mix-blend-mode:multiply"/>
<rect x="383.75" y="20.8" width="1.3" height="488.80" rx="0.6" fill="#636363" style="mix-blend-mode:multiply"/>
<rect x="612.95" y="20.8" width="1.3" height="488.80" rx="0.6" fill="#636363" style="mix-blend-mode:multiply"/>
</svg></body></html>
